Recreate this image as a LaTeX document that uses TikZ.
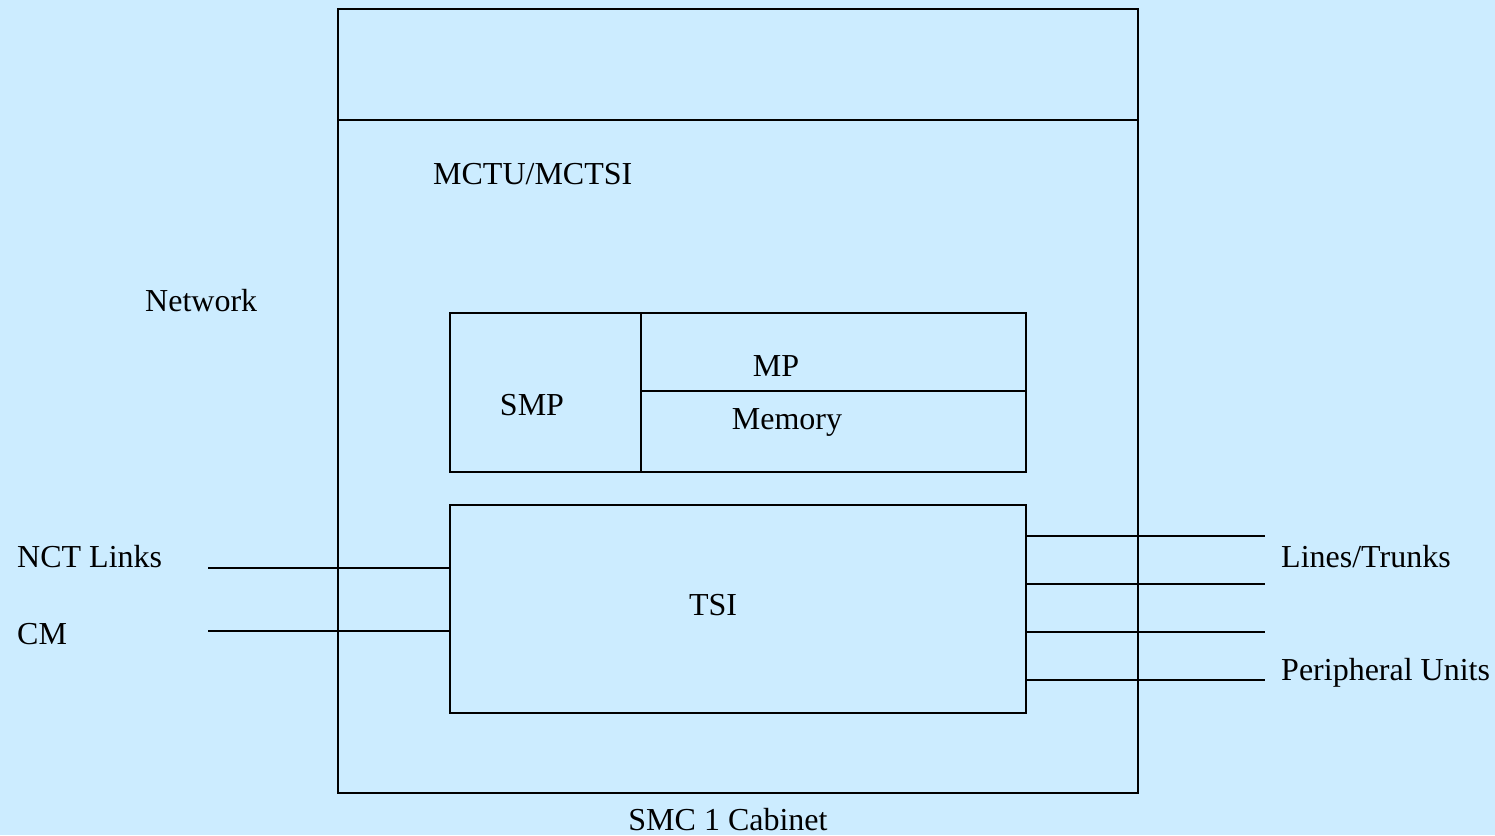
\documentclass[tikz,border=0pt]{standalone}
\usepackage{fontspec}
\setmainfont{Liberation Serif}
\definecolor{bg}{RGB}{204,236,255}
\begin{document}
\begin{tikzpicture}[x=1pt,y=-1pt,
  box/.style={draw=black,line width=1.6pt},
  wire/.style={draw=black,line width=1.6pt},
  lbl/.style={inner sep=0pt,font=\fontsize{32}{36}\selectfont},
  lbll/.style={lbl,anchor=west}]
\fill[bg] (0,0) rectangle (1495,835);
\useasboundingbox (0,0) rectangle (1495,835);
% outer cabinet
\node[box,minimum width=800pt,minimum height=784pt,anchor=north west,inner sep=0pt] (cab) at (337,8) {};
\coordinate (hl) at (337,120); \coordinate (hr) at (1137,120);
\draw[wire] (hl) -- (hr);
% SMP/MP box
\node[box,minimum width=576pt,minimum height=159pt,anchor=north west,inner sep=0pt] (proc) at (449,312) {};
\coordinate (dvt) at (641,312); \coordinate (dvb) at (641,471);
\draw[wire] (dvt) -- (dvb);
\coordinate (ml) at (641,391); \coordinate (mr) at (1025,391);
\draw[wire] (ml) -- (mr);
% TSI box
\node[box,minimum width=576pt,minimum height=208pt,anchor=north west,inner sep=0pt] (tsi) at (449,504) {};
% texts
\node[lbll] (mctu) at (433,174) {MCTU/MCTSI};
\node[lbll] (net) at (145,301) {Network};
\node[lbl] (smp) at (532,405) {SMP};
\node[lbl] (mp) at (776,366) {MP};
\node[lbl] (mem) at (787,422) {Memory};
\node[lbl] (tsit) at (713,605) {TSI};
\node[lbll] (nct) at (17,557) {NCT Links};
\node[lbll] (cm) at (17,634) {CM};
\node[lbll] (lt) at (1281,557) {Lines/Trunks};
\node[lbll] (pu) at (1281,673) {Peripheral Units};
\node[lbl,anchor=base] (smc) at (728,830) {SMC 1 Cabinet};
% left wires
\coordinate (l1) at (208,568); \coordinate (l2) at (208,631);
\draw[wire] (l1) -- (l1 -| tsi.west);
\draw[wire] (l2) -- (l2 -| tsi.west);
% right wires
\foreach \y [count=\i] in {536,584,632,680}{
  \coordinate (r\i) at (1265,\y);
  \draw[wire] (r\i -| tsi.east) -- (r\i);
}
\end{tikzpicture}
\end{document}
